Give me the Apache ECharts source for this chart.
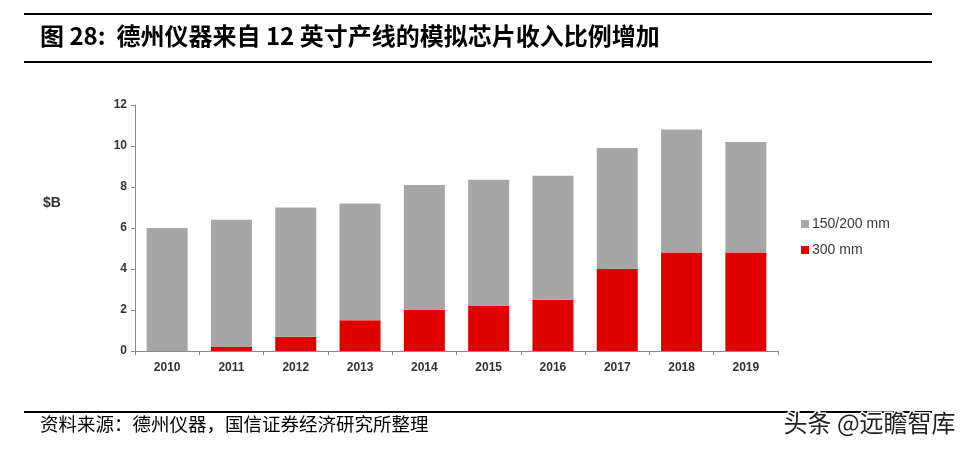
<!DOCTYPE html>
<html>
<head>
<meta charset="utf-8">
<script src="https://cdn.jsdelivr.net/npm/echarts@6/dist/echarts.min.js"></script>
<style>
html,body{margin:0;padding:0;background:#fff;}
#c{width:975px;height:452px;}
</style>
</head>
<body>
<div id="c"></div>
<script>
const categories = ['2010','2011','2012','2013','2014','2015','2016','2017','2018','2019'];
const mm300 = [0, 0.2, 0.7, 1.5, 2.0, 2.2, 2.5, 4.0, 4.8, 4.8];
const mm150_200 = [6.0, 6.2, 6.3, 5.7, 6.1, 6.15, 6.05, 5.9, 6.0, 5.4];
const seriesNames = ['150/200 mm', '300 mm'];
const yTicks = [0, 2, 4, 6, 8, 10, 12];

const chart = echarts.init(document.getElementById('c'), null, {renderer: 'canvas'});
const cjk = '"Noto Sans CJK SC", sans-serif';
const latin = '"Liberation Sans", Arial, sans-serif';

chart.setOption({
  animation: false,
  backgroundColor: '#fff',
  grid: {left: 135, right: 197, top: 105, bottom: 101},
  legend: {
    orient: 'vertical', left: 796, top: 212,
    itemWidth: 8, itemHeight: 8, itemGap: 12,
    icon: 'rect',
    data: seriesNames,
    textStyle: {fontFamily: latin, fontSize: 14, color: '#3a3a3a', padding: [0,0,0,-2]}
  },
  xAxis: {
    type: 'category', data: categories,
    axisLine: {lineStyle: {color: '#8c8c8c', width: 1}},
    axisTick: {show: true, alignWithLabel: false, length: 4, lineStyle: {color: '#8c8c8c'}},
    axisLabel: {fontFamily: latin, fontSize: 12, fontWeight: 'bold', color: '#333', margin: 11}
  },
  yAxis: {
    type: 'value', min: yTicks[0], max: yTicks[yTicks.length-1], interval: 2,
    axisLine: {show: true, lineStyle: {color: '#8c8c8c', width: 1}},
    axisTick: {show: true, length: 4, lineStyle: {color: '#8c8c8c'}},
    splitLine: {show: false},
    axisLabel: {fontFamily: latin, fontSize: 12, fontWeight: 'bold', color: '#333', margin: 8}
  },
  series: [
    {name: seriesNames[1], type: 'bar', stack: 'a', data: mm300, barWidth: 41,
     itemStyle: {color: '#e00000'}},
    {name: seriesNames[0], type: 'bar', stack: 'a', data: mm150_200, barWidth: 41,
     itemStyle: {color: '#a6a6a6'}}
  ],
  graphic: [
    {type: 'line', shape: {x1: 24, y1: 14, x2: 932, y2: 14}, style: {stroke: '#000', lineWidth: 2}},
    {type: 'line', shape: {x1: 24, y1: 62, x2: 932, y2: 62}, style: {stroke: '#000', lineWidth: 2}},
    {type: 'text', left: 40, top: 24, style: {text: '图 28:  德州仪器来自 12 英寸产线的模拟芯片收入比例增加', font: 'bold 24px ' + cjk, fill: '#000'}},
    {type: 'text', left: 43, top: 196, style: {text: '$B', font: 'bold 14px ' + latin, fill: '#333'}},
    {type: 'line', shape: {x1: 24, y1: 412, x2: 932, y2: 412}, style: {stroke: '#000', lineWidth: 2}},
    {type: 'text', left: 40, top: 415, style: {text: '资料来源：德州仪器，国信证券经济研究所整理', font: '18.5px ' + cjk, fill: '#000'}},
    {type: 'text', left: 782, top: 409, style: {text: '头条 @远瞻智库', font: '24px ' + cjk, fill: '#222', stroke: '#fff', lineWidth: 3}}
  ]
});
</script>
</body>
</html>
